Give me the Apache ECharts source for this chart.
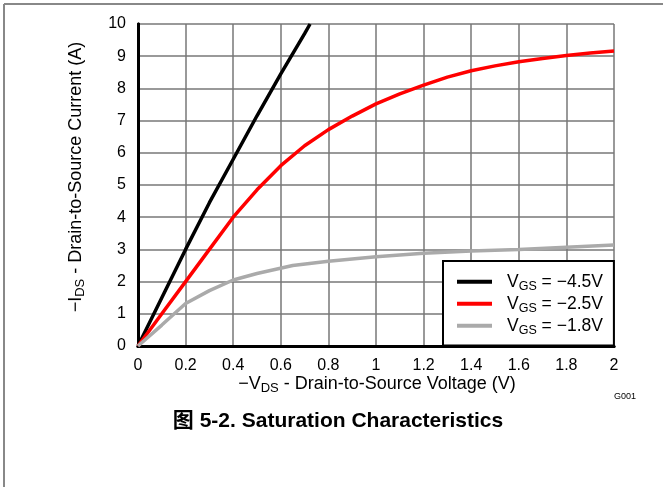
<!DOCTYPE html>
<html>
<head>
<meta charset="utf-8">
<title>Saturation Characteristics</title>
<script src="https://cdn.jsdelivr.net/npm/echarts@6/dist/echarts.min.js"></script>
<style>
  html, body { margin: 0; padding: 0; background: #fff; }
  #chart { width: 663px; height: 487px; }
</style>
</head>
<body>
<div id="chart"></div>
<script>
// values, -VDS (V) vs -IDS (A)
const vds45 = [0, 0.1, 0.2, 0.3, 0.4, 0.5, 0.6, 0.7, 0.723];
const ids45 = [0, 1.5, 3.0, 4.45, 5.8, 7.15, 8.45, 9.7, 10];

const vds25 = [0, 0.1, 0.2, 0.3, 0.4, 0.5, 0.6, 0.7, 0.8, 0.9, 1.0, 1.1, 1.2, 1.3, 1.4, 1.5, 1.6, 1.7, 1.8, 1.9, 2.0];
const ids25 = [0, 1.0, 2.0, 3.0, 4.0, 4.85, 5.6, 6.22, 6.72, 7.14, 7.52, 7.83, 8.1, 8.35, 8.55, 8.7, 8.83, 8.93, 9.02, 9.1, 9.16];

const vds18 = [0, 0.1, 0.2, 0.3, 0.4, 0.5, 0.65, 0.8, 1.0, 1.2, 1.4, 1.6, 1.8, 2.0];
const ids18 = [0, 0.65, 1.32, 1.72, 2.05, 2.25, 2.5, 2.63, 2.77, 2.88, 2.95, 3.0, 3.07, 3.14];

const seriesNames = ['VGS = -4.5V', 'VGS = -2.5V', 'VGS = -1.8V'];
const legendLabels = ['\u22124.5V', '\u22122.5V', '\u22121.8V'];
const xTicks = ['0', '0.2', '0.4', '0.6', '0.8', '1', '1.2', '1.4', '1.6', '1.8', '2'];
const yTicks = ['0', '1', '2', '3', '4', '5', '6', '7', '8', '9', '10'];

const FONT = '"Liberation Sans", Arial, "Noto Sans CJK SC", sans-serif';

function pairs(xs, ys) {
    return xs.map((x, i) => [x, ys[i]]);
}

const chart = echarts.init(document.getElementById('chart'), null, { renderer: 'canvas' });

const lineSeries = (name, xs, ys, color) => ({
    name: name,
    type: 'line',
    data: pairs(xs, ys),
    showSymbol: false,
    symbol: 'none',
    clip: true,
    lineStyle: { color: color, width: 3.5 },
    itemStyle: { color: color },
    z: 3
});

// V + subscript text pieces
const nameRich = {
    a: { fontFamily: FONT, fontSize: 18, color: '#000' },
    s: { fontFamily: FONT, fontSize: 13, color: '#000', padding: [9, 0, 0, 0] }
};
const legendRich = {
    a: { fontFamily: FONT, fontSize: 17.5, color: '#000' },
    s: { fontFamily: FONT, fontSize: 12.5, color: '#000', padding: [9, 0, 0, 0] }
};

chart.setOption({
    animation: false,
    backgroundColor: '#fff',
    grid: { left: 138, top: 24, width: 476, height: 322, containLabel: false },
    xAxis: [{
        type: 'value',
        min: 0, max: 2, interval: 0.2,
        axisLine: { show: true, onZero: false, lineStyle: { color: '#000', width: 3 } },
        axisTick: { show: false },
        axisLabel: {
            fontFamily: FONT, fontSize: 16, color: '#000', margin: 12,
            formatter: (v) => xTicks[Math.round(v / 0.2)]
        },
        splitLine: { show: true, lineStyle: { color: '#777', width: 1.5 } }
    }, {
        type: 'value', position: 'top',
        min: 0, max: 2, interval: 0.2,
        axisLine: { show: true, lineStyle: { color: '#000', width: 3 } },
        axisTick: { show: false }, axisLabel: { show: false }, splitLine: { show: false }
    }],
    yAxis: [{
        type: 'value',
        min: 0, max: 10, interval: 1,
        axisLine: { show: true, onZero: false, lineStyle: { color: '#000', width: 3 } },
        axisTick: { show: false },
        axisLabel: {
            fontFamily: FONT, fontSize: 16, color: '#000', margin: 12,
            formatter: (v) => yTicks[Math.round(v)]
        },
        splitLine: { show: true, lineStyle: { color: '#777', width: 1.5 } }
    }, {
        type: 'value', position: 'right',
        min: 0, max: 10, interval: 1,
        axisLine: { show: true, lineStyle: { color: '#000', width: 3 } },
        axisTick: { show: false }, axisLabel: { show: false }, splitLine: { show: false }
    }],
    legend: {
        orient: 'vertical',
        left: 443, top: 261,
        padding: [12, 11, 9, 14],
        itemGap: 2.5,
        itemWidth: 35,
        itemHeight: 4,
        icon: 'rect',
        backgroundColor: '#fff',
        borderColor: '#000',
        borderWidth: 2,
        borderRadius: 0,
        z: 10,
        data: seriesNames,
        formatter: (name) => '{a|V}{s|GS}{a| = ' + legendLabels[seriesNames.indexOf(name)] + '}',
        textStyle: { padding: [0, 0, 0, 10], rich: legendRich }
    },
    graphic: [
        { type: 'line', shape: { x1: 4, y1: 4, x2: 663, y2: 4 }, style: { stroke: '#888', lineWidth: 2 } },
        { type: 'line', shape: { x1: 4, y1: 4, x2: 4, y2: 487 }, style: { stroke: '#888', lineWidth: 2 } },
        {
            type: 'text',
            position: [377, 384],
            style: {
                text: '{a|\u2212V}{s|DS}{a| - Drain-to-Source Voltage (V)}',
                rich: nameRich, align: 'center', verticalAlign: 'middle'
            }
        },
        {
            type: 'text',
            position: [76, 177],
            rotation: Math.PI / 2,
            style: {
                text: '{a|\u2212I}{s|DS}{a| - Drain-to-Source Current (A)}',
                rich: nameRich, align: 'center', verticalAlign: 'middle'
            }
        },
        {
            type: 'text',
            position: [625, 397],
            style: { text: 'G001', fontFamily: FONT, fontSize: 9, fill: '#000', align: 'center', verticalAlign: 'middle' }
        },
        {
            type: 'text',
            position: [338, 421],
            style: {
                text: '\u56fe 5-2. Saturation Characteristics',
                fontFamily: FONT, fontSize: 21, fontWeight: 'bold', fill: '#000',
                align: 'center', verticalAlign: 'middle'
            }
        }
    ],
    series: [
        lineSeries(seriesNames[0], vds45, ids45, '#000000'),
        lineSeries(seriesNames[1], vds25, ids25, '#ff0000'),
        lineSeries(seriesNames[2], vds18, ids18, '#aaaaaa')
    ]
});
</script>
</body>
</html>
